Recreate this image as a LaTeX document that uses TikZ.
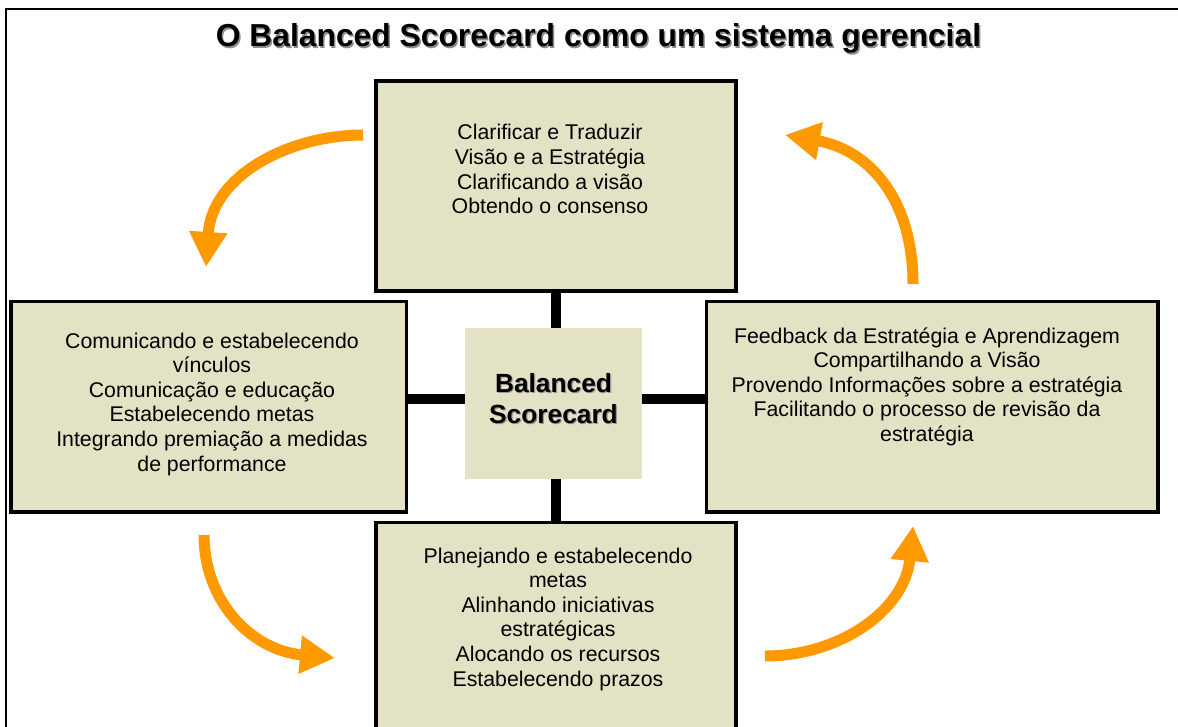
\documentclass[tikz,border=0pt]{standalone}
\usepackage{fontspec}
\setmainfont{Liberation Sans}
\usetikzlibrary{arrows.meta}
\definecolor{boxfill}{RGB}{227,226,196}
\definecolor{arroworange}{RGB}{255,153,0}
\begin{document}
\begin{tikzpicture}[x=1pt,y=-1pt,
  panel/.style={draw=black,line width=3.5pt,fill=boxfill,inner sep=0pt,anchor=north west},
  body/.style={align=center,inner sep=0pt,anchor=base,font=\fontsize{21.3}{24.6}\selectfont},
  hub/.style={align=center,inner sep=0pt,anchor=base,font=\bfseries\fontsize{26.3}{31.6}\selectfont},
  headline/.style={inner sep=0pt,anchor=base,font=\bfseries\fontsize{31.8}{36}\selectfont},
  link/.style={line width=10.5pt,black},
  cyc/.style={line width=11pt,arroworange,-{Triangle[length=35pt,width=36pt]}}]
\useasboundingbox (0,0) rectangle (1178,727);
\clip (0,0) rectangle (1178,727);
% outer frame
\coordinate (fbl) at (6,740);
\coordinate (ftl) at (6,9);
\coordinate (ftr) at (1190,9);
\draw[line width=1.6pt] (fbl) -- (ftl) -- (ftr);
% title
\node[headline,text=black!45] (titleshadow) at (600,48.5) {O Balanced Scorecard como um sistema gerencial};
\node[headline] (title) at (598.5,47) {O Balanced Scorecard como um sistema gerencial};
% boxes
\node[panel,minimum width=360pt,minimum height=210pt] (top) at (374,79.5) {};
\node[panel,minimum width=395.5pt,minimum height=210pt] (left) at (9,300) {};
\node[panel,minimum width=451.5pt,minimum height=210pt] (right) at (704.5,300) {};
\node[panel,minimum width=360pt,minimum height=250pt] (bottom) at (374,520.5) {};
\node[fill=boxfill,inner sep=0pt,anchor=north west,minimum width=176.5pt,minimum height=151pt] (center) at (465,328) {};
% links
\draw[link] (top.south) -- (top.south |- center.north);
\draw[link] (bottom.north) -- (bottom.north |- center.south);
\draw[link] ([yshift=4.5pt]center.west) -- ([yshift=4.5pt]center.west -| left.east);
\draw[link] ([yshift=4.5pt]center.east) -- ([yshift=4.5pt]center.east -| right.west);
% texts (anchor base = baseline of last line)
\node[body] (toptext) at (550,213.8) {Clarificar e Traduzir\\ Visão e a Estratégia\\Clarificando a visão\\Obtendo o consenso};
\node[body] (lefttext) at (212,471) {Comunicando e estabelecendo\\vínculos\\Comunicação e educação\\Estabelecendo metas\\Integrando premiação a medidas\\de performance};
\node[body] (righttext) at (927,441.4) {Feedback da Estratégia e Aprendizagem\\Compartilhando a Visão\\Provendo Informações sobre a estratégia\\Facilitando o processo de revisão da\\estratégia};
\node[body] (bottomtext) at (558,686) {Planejando e estabelecendo\\metas\\Alinhando iniciativas\\estratégicas\\Alocando os recursos\\Estabelecendo prazos};
\node[hub,text=black!40] (hubshadow) at (554.7,424.8) {Balanced\\Scorecard};
\node[hub] (hubtext) at (553.5,423.6) {Balanced\\Scorecard};
% cycle arrows
\coordinate (a1s) at (363,135);
\coordinate (a1e) at (206,267);
\draw[cyc] (a1s) .. controls (290,135) and (212,175) .. (a1e);
\coordinate (a2s) at (913,284);
\coordinate (a2e) at (785,135);
\draw[cyc] (a2s) .. controls (913,200) and (870,150) .. (a2e);
\coordinate (a3s) at (204,535);
\coordinate (a3e) at (335,658);
\draw[cyc] (a3s) .. controls (204,600) and (250,650) .. (a3e);
\coordinate (a4s) at (765,656);
\coordinate (a4e) at (913,526);
\draw[cyc] (a4s) .. controls (840,656) and (905,610) .. (a4e);
\end{tikzpicture}
\end{document}
